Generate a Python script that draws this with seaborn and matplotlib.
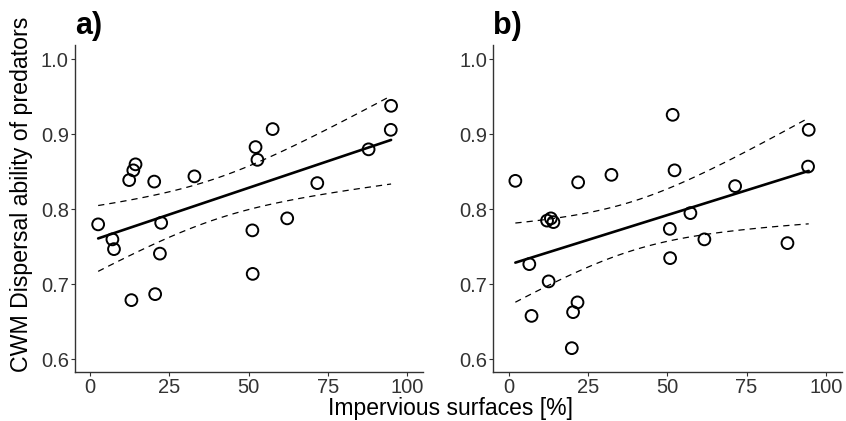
import numpy as np
import pandas as pd
import matplotlib
matplotlib.use("Agg")
import matplotlib.pyplot as plt
import seaborn as sns

# Impervious surface cover [%] and community-weighted mean dispersal ability
imperv_a = [2.5, 7.0, 7.5, 12.3, 13.6, 14.3, 13.0, 20.2, 20.5, 22.4, 22.0,
            32.9, 51.2, 51.3, 52.2, 52.8, 57.6, 62.2, 71.7, 87.9, 94.9, 95.0]
cwm_a = [0.780, 0.760, 0.747, 0.839, 0.852, 0.860, 0.679, 0.837, 0.687, 0.782,
         0.741, 0.844, 0.772, 0.714, 0.883, 0.866, 0.907, 0.788, 0.835, 0.880,
         0.906, 0.938]

imperv_b = [2.1, 6.5, 7.2, 12.1, 13.3, 14.1, 12.6, 21.9, 21.7, 20.3, 19.9,
            32.4, 50.8, 50.9, 51.7, 52.3, 57.3, 61.7, 71.4, 87.9, 94.4, 94.6]
cwm_b = [0.838, 0.727, 0.658, 0.785, 0.788, 0.783, 0.704, 0.836, 0.676, 0.663,
         0.615, 0.846, 0.774, 0.735, 0.926, 0.852, 0.795, 0.760, 0.831, 0.755,
         0.857, 0.906]

panel_tags = ["a)", "b)"]
x_ticks = [0, 25, 50, 75, 100]
y_ticks = [0.6, 0.7, 0.8, 0.9, 1.0]

sns.set_theme(style="ticks")
plt.rcParams["font.family"] = ["Liberation Sans", "DejaVu Sans"]

fig = plt.figure(figsize=(8.46, 4.21), dpi=100)
ax_a = fig.add_axes([0.0887, 0.116, 0.411, 0.777])
ax_b = fig.add_axes([0.5833, 0.116, 0.4116, 0.777])

T_CRIT = 2.086  # two-sided 95 % t quantile, df = 20


def fit_with_ci(x, y, grid):
    x = np.asarray(x, float)
    y = np.asarray(y, float)
    n = len(x)
    slope, intercept = np.polyfit(x, y, 1)
    resid = y - (intercept + slope * x)
    s = np.sqrt(np.sum(resid ** 2) / (n - 2))
    sxx = np.sum((x - x.mean()) ** 2)
    pred = intercept + slope * grid
    se = s * np.sqrt(1.0 / n + (grid - x.mean()) ** 2 / sxx)
    return pred, pred - T_CRIT * se, pred + T_CRIT * se


for ax, xs, ys, tag in [(ax_a, imperv_a, cwm_a, panel_tags[0]),
                        (ax_b, imperv_b, cwm_b, panel_tags[1])]:
    df = pd.DataFrame({"imperv": xs, "cwm": ys})
    grid = np.linspace(min(xs), max(xs), 100)
    pred, lo, hi = fit_with_ci(xs, ys, grid)
    fit = pd.DataFrame({"imperv": grid, "pred": pred, "lo": lo, "hi": hi})

    sns.lineplot(data=fit, x="imperv", y="lo", ax=ax, color="black",
                 linewidth=0.9, linestyle=(0, (5, 4)))
    sns.lineplot(data=fit, x="imperv", y="hi", ax=ax, color="black",
                 linewidth=0.9, linestyle=(0, (5, 4)))
    sns.lineplot(data=fit, x="imperv", y="pred", ax=ax, color="black",
                 linewidth=1.9)
    sns.scatterplot(data=df, x="imperv", y="cwm", ax=ax, s=72,
                    facecolor="none", edgecolor="black", linewidth=1.4,
                    zorder=3)

    ax.set_xlim(-4.8, 105)
    ax.set_ylim(0.583, 1.019)
    ax.set_xticks(x_ticks)
    ax.set_yticks(y_ticks)
    ax.set_xticklabels([str(v) for v in x_ticks])
    ax.set_yticklabels([f"{v:.1f}" for v in y_ticks])
    ax.tick_params(axis="both", labelsize=14.5, colors="#333333",
                   labelcolor="#333333", length=3, width=0.8, pad=1.5)
    for side in ["top", "right"]:
        ax.spines[side].set_visible(False)
    for side in ["left", "bottom"]:
        ax.spines[side].set_color("#333333")
        ax.spines[side].set_linewidth(1.0)
    ax.set_xlabel("")
    ax.set_ylabel("")
    ax.text(0.0, 1.058, tag, transform=ax.transAxes, fontsize=22,
            fontweight="bold", ha="left", va="center", color="black")

fig.text(0.532, 0.002, "Impervious surfaces [%]", ha="center", va="bottom",
         fontsize=16.5, color="black")
fig.text(0.026, 0.539, "CWM Dispersal ability of predators", ha="center",
         va="center", rotation=90, fontsize=16.7, color="black")

fig.savefig("out.png", dpi=100)
